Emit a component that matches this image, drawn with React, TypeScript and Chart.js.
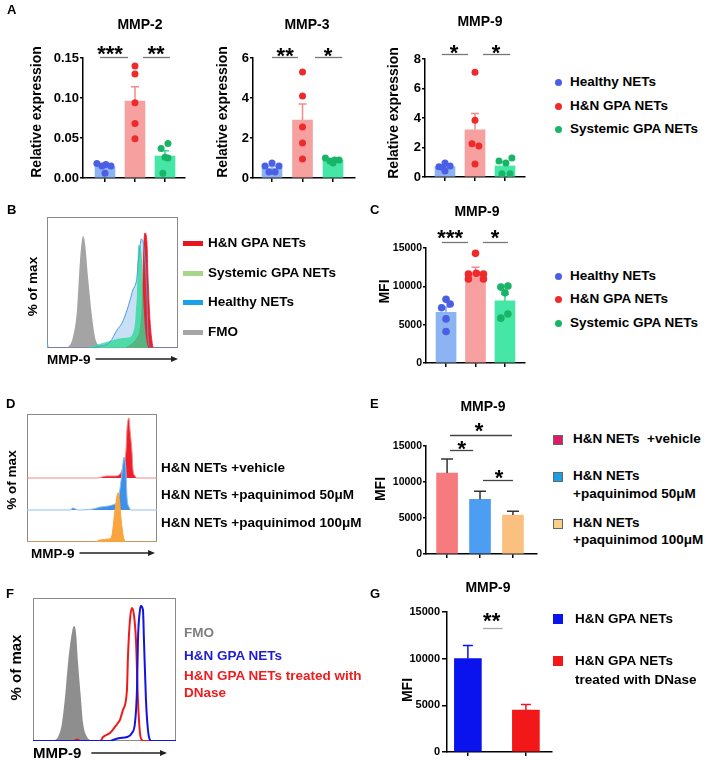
import React, { useEffect, useRef } from 'react';
import { Chart, registerables } from 'chart.js';

Chart.register(...registerables);

const FONT = "'Liberation Sans', Arial, Helvetica, sans-serif";

// ---------------- Panel A : relative expression ----------------
const groupsA = ['Healthy NETs', 'H&N GPA NETs', 'Systemic GPA NETs'];

const mmp2Mean = [0.014, 0.096, 0.0275];
const mmp2Sem = [0.0022, 0.018, 0.0065];
const mmp2Healthy = [0.018, 0.015, 0.017, 0.015, 0.006];
const mmp2HN = [0.14, 0.13, 0.094, 0.068, 0.049];
const mmp2Systemic = [0.043, 0.037, 0.025, 0.026, 0.006];
const mmp2Ticks = [0, 0.05, 0.1, 0.15];
const mmp2TickLabels = ['0.00', '0.05', '0.10', '0.15'];

const mmp3Mean = [0.5, 2.9, 0.88];
const mmp3Sem = [0.1, 0.8, 0.07];
const mmp3Healthy = [0.6, 0.75, 0.6, 0.3, 0.3];
const mmp3HN = [5.3, 4.1, 2.55, 1.75, 0.95];
const mmp3Systemic = [1.0, 0.85, 0.9, 0.9, 0.75];
const mmp3Ticks = [0, 2, 4, 6];
const mmp3TickLabels = ['0', '2', '4', '6'];

const mmp9Mean = [0.7, 3.2, 0.75];
const mmp9Sem = [0.12, 1.1, 0.28];
const mmp9Healthy = [0.7, 0.95, 0.75, 0.65, 0.4];
const mmp9HN = [7.1, 3.85, 2.25, 2.1, 0.88];
const mmp9Systemic = [1.08, 0.95, 1.28, 0.22, 0.22];
const mmp9Ticks = [0, 2, 4, 6, 8];
const mmp9TickLabels = ['0', '2', '4', '6', '8'];

// ---------------- Panel C : MFI ----------------
const mfiMean = [6600, 11850, 8100];
const mfiSem = [700, 650, 900];
const mfiHealthy = [8300, 7200, 7700, 5750, 4100];
const mfiHN = [14300, 11600, 11700, 11600, 10950, 10950];
const mfiSystemic = [9900, 10050, 9150, 6400, 5850];
const mfiTicks = [0, 5000, 10000, 15000];
const mfiTickLabels = ['0', '5000', '10000', '15000'];

// ---------------- Panel E : paquinimod ----------------
const legendE = [['H&N NETs  +vehicle'], ['H&N NETs', '+paquinimod 50\u03bcM'], ['H&N NETs', '+paquinimod 100\u03bcM']];
const labelsD = ['H&N NETs +vehicle', 'H&N NETs +paquinimod 50\u03bcM', 'H&N NETs +paquinimod 100\u03bcM'];
const paqMean = [11250, 7600, 5400];
const paqSem = [1950, 1100, 550];

// ---------------- Panel G : DNase ----------------
const legendG = [['H&N GPA NETs'], ['H&N GPA NETs', 'treated with DNase']];
const dnaseMean = [10000, 4500];
const dnaseSem = [1400, 600];

// ---------------- Histograms [channel 0-100, % of max] ----------------
const legendB = ['H&N GPA NETs', 'Systemic GPA NETs', 'Healthy NETs', 'FMO'];
const histB_FMO = [[0, 0], [13, 0], [16, 0.8], [19.8, 8.4], [22.9, 29], [25.2, 67.2], [26.7, 82.4], [27.5, 85.5], [29, 80.2], [31.3, 54.2], [34.4, 23.7], [36.6, 8.4], [38.9, 2.3], [42, 0], [100, 0]];
const histB_Healthy = [[0, 7], [1, 0], [36, 0], [38.2, 0.8], [48.1, 4.6], [53.4, 13.7], [57.3, 19.1], [61.1, 29], [63.4, 36.6], [65.6, 44.3], [67.9, 49.6], [68.7, 54.2], [69.5, 64.9], [71, 77.1], [71.8, 83.2], [73.3, 80.9], [74.8, 67.2], [76.3, 38.9], [77.1, 8.4], [78.6, 0.8], [80, 0], [100, 0]];
const histB_Systemic = [[0, 0], [31, 0], [32.8, 0.8], [42.7, 3.8], [50.4, 6.1], [58, 7.6], [63.4, 8.4], [65.6, 11.5], [67.2, 19.1], [67.9, 29], [68.7, 42], [69.1, 59.5], [69.5, 77.1], [70.2, 78.6], [72.5, 67.2], [73.3, 42], [74.8, 16], [76.3, 3.8], [77.1, 0.8], [78, 0], [100, 0]];
const histB_HN = [[0, 0], [60, 0], [61.1, 0.8], [65.6, 3.8], [68.7, 7.6], [71, 13.7], [72.5, 29], [73.3, 54.2], [74, 80.2], [74.8, 87.8], [76.3, 80.2], [77.1, 54.2], [78.6, 21.4], [80.2, 4.6], [80.9, 0.8], [82, 0], [100, 0]];

const histD_vehicle = [[0, 0], [53.8, 0], [61.5, 1.6], [67.7, 1.6], [71.5, 3.1], [73.8, 8.6], [76.2, 22.7], [76.9, 38.3], [78.5, 46.9], [79.2, 38.3], [80.8, 20.3], [81.5, 7], [83.1, 1.6], [84.6, 0], [100, 0]];
const histD_paq50 = [[0, 0], [33.1, 0], [35.4, 1.6], [39.2, 0], [50.8, 0.8], [56.2, 2.3], [62.3, 3.1], [67.7, 4.7], [70, 7], [71.5, 16.4], [73.1, 29.7], [74.6, 41.4], [76.2, 29.7], [76.9, 10.9], [78.5, 2.3], [80.8, 0], [100, 0]];
const histD_paq100 = [[0, 0], [52, 0], [56.2, 1.6], [63, 2.4], [65, 3.9], [67.7, 25], [69.2, 36], [70.2, 38.5], [71, 34], [72, 22], [73.5, 8], [74.8, 1.5], [76.2, 0], [100, 0]];

const legendF = ['FMO', 'H&N GPA NETs', 'H&N GPA NETs treated with', 'DNase'];
const histF_FMO = [[0, 0], [14, 0], [15.4, 0.7], [17.5, 2.8], [20.3, 12.6], [22.4, 30.8], [24.5, 54.5], [27.3, 76.2], [28.7, 80.4], [30.1, 75.5], [31.5, 54.5], [33.6, 28.7], [35, 12.6], [37.8, 2.8], [39.9, 0.7], [41, 0], [100, 0]];
const histF_DNase = [[0, 0], [28, 0], [30.8, 1], [33.6, 0], [47, 0], [49, 2.8], [53.8, 5.6], [57.3, 9.8], [59.4, 12.6], [60.8, 14.7], [62.9, 21.7], [65.7, 35.7], [66.4, 58.7], [67.8, 84.6], [69.2, 93], [70.6, 88.1], [72, 70.6], [73.4, 28.7], [74.8, 5.6], [76.2, 0.7], [77.5, 0], [100, 0]];
const histF_HN = [[0, 0], [54, 0], [55.9, 0.7], [60.8, 2.1], [65.7, 2.8], [69.2, 5.6], [71.3, 12.6], [72.7, 35.7], [73.4, 70.6], [74.8, 91.6], [75.5, 94.4], [76.9, 91.6], [77.6, 70.6], [79, 28.7], [80.4, 7.7], [81.8, 0.7], [83, 0], [100, 0]];

// ---------------- styles ----------------
const BAR_A = ['#8db4f2', '#f6a0a0', '#46e6a6'];
const ERR_A = ['#7aa6ee', '#f08c8c', '#36d696'];
const DOT_A = ['#4a5ee6', '#ee2b2b', '#18b566'];
const BAR_E = ['#f77b7e', '#4d9ef3', '#fbbf80'];
const BAR_G = ['#0a12ee', '#f2181a'];

type Dots = { values: number[]; jitter: number[]; color: string; group: number };
type Bracket = { x1: number; x2: number; y: number; lx: number; label: string; gap: number };

function barDecor(s: any) {
  return {
    id: 'barDecor',
    afterDatasetDraw(chart: any, args: any) {
      if (args.meta.type !== 'bar') return;
      const ctx = chart.ctx;
      const ys = chart.scales.y;
      ctx.save();
      ctx.lineWidth = 1.5;
      args.meta.data.forEach((el: any, i: number) => {
        const top = ys.getPixelForValue(s.means[i] + s.sems[i]);
        ctx.strokeStyle = s.errColors[i];
        ctx.beginPath();
        ctx.moveTo(el.x, el.y);
        ctx.lineTo(el.x, top);
        ctx.moveTo(el.x - s.cap / 2, top);
        ctx.lineTo(el.x + s.cap / 2, top);
        ctx.stroke();
      });
      ctx.restore();
    },
    afterDraw(chart: any) {
      const { ctx, chartArea: ca, scales } = chart;
      ctx.save();
      ctx.fillStyle = '#000';
      ctx.textAlign = 'center';
      ctx.textBaseline = 'middle';
      ctx.font = `bold 14px ${FONT}`;
      ctx.fillText(s.title, (ca.left + ca.right) / 2 + s.titleDx, ca.top + s.titleDy);
      ctx.save();
      ctx.translate(ca.left + s.ytDx, (ca.top + ca.bottom) / 2 + s.ytDy);
      ctx.rotate(-Math.PI / 2);
      ctx.fillText(s.ytitle, 0, 0);
      ctx.restore();
      ctx.strokeStyle = s.brColor;
      ctx.lineWidth = 1.3;
      ctx.font = `bold ${s.starSize}px ${FONT}`;
      ctx.textBaseline = 'alphabetic';
      s.brackets.forEach((b: Bracket) => {
        const y = Math.round(scales.y.getPixelForValue(b.y)) + 0.5;
        ctx.beginPath();
        ctx.moveTo(scales.x.getPixelForValue(b.x1), y);
        ctx.lineTo(scales.x.getPixelForValue(b.x2), y);
        ctx.stroke();
        ctx.fillText(b.label, scales.x.getPixelForValue(b.lx), y - b.gap + 0.57 * s.starSize);
      });
      ctx.restore();
    },
  };
}

function barConfig(s: any) {
  const padding = { left: s.L - s.cx - s.yw, top: s.T - s.cy, right: s.cx + s.cw - s.R, bottom: s.cy + s.ch - s.B - s.xh };
  const xTicks = s.means.map((_: number, i: number) => i);
  const datasets: any[] = (s.dots as Dots[]).map((d) => ({
    type: 'scatter',
    order: 0,
    data: d.values.map((v, k) => ({ x: d.group + d.jitter[k], y: v })),
    backgroundColor: d.color,
    borderColor: d.color,
    borderWidth: 0,
    pointRadius: s.dotR,
  }));
  datasets.push({
    type: 'bar',
    order: 1,
    data: s.means.map((m: number, i: number) => ({ x: i, y: m })),
    backgroundColor: s.barColors,
    barThickness: s.barW,
    borderWidth: 0,
  });
  const grid = (len: number) => ({ display: true, drawOnChartArea: false, drawTicks: true, tickLength: len, color: '#000', lineWidth: 1.5, offset: false });
  return {
    type: 'bar',
    data: { datasets },
    options: {
      responsive: false,
      animation: false,
      devicePixelRatio: 1,
      layout: { padding },
      plugins: { legend: { display: false }, tooltip: { enabled: false } },
      scales: {
        x: {
          type: 'linear', min: s.xMin, max: s.xMax, offset: false,
          afterBuildTicks: (sc: any) => { sc.ticks = xTicks.map((v: number) => ({ value: v })); },
          afterFit: (sc: any) => { sc.height = s.xh; },
          grid: grid(4),
          border: { display: true, color: '#000', width: 1.5 },
          ticks: { display: false },
        },
        y: {
          type: 'linear', min: 0, max: s.yTicks[s.yTicks.length - 1],
          afterBuildTicks: (sc: any) => { sc.ticks = s.yTicks.map((v: number) => ({ value: v })); },
          afterFit: (sc: any) => { sc.width = s.yw; },
          grid: grid(s.tickLen),
          border: { display: true, color: '#000', width: 1.5 },
          ticks: { color: '#000', padding: s.tickPad, font: { family: FONT, size: s.tickFont, weight: 'bold' }, callback: (_v: any, i: number) => s.yLabels[i] },
        },
      },
    },
    plugins: [barDecor(s)],
  };
}

function histDecor(f: any) {
  return {
    id: 'histDecor',
    beforeDatasetsDraw(chart: any) {
      const { ctx, chartArea: ca } = chart;
      ctx.save();
      ctx.strokeStyle = '#8a8a8a';
      ctx.lineWidth = 1;
      ctx.strokeRect(ca.left + 0.5, ca.top + 0.5, ca.right - ca.left - 1, ca.bottom - ca.top - 1);
      ctx.restore();
    },
    afterDraw(chart: any) {
      const { ctx, chartArea: ca } = chart;
      ctx.save();
      ctx.fillStyle = '#000';
      ctx.font = `bold ${f.labelSize}px ${FONT}`;
      ctx.textBaseline = 'middle';
      ctx.textAlign = 'left';
      const lx = ca.left + f.xlDx;
      const ly = ca.bottom + f.xlDy;
      ctx.fillText(f.xlabel, lx, ly);
      const w = ctx.measureText(f.xlabel).width;
      const ax0 = lx + w + f.arrowGap;
      const ax1 = ca.right + f.arrowEndDx;
      const ay = ca.bottom + f.arrowDy;
      ctx.strokeStyle = '#222';
      ctx.lineWidth = 1.3;
      ctx.beginPath();
      ctx.moveTo(ax0, ay);
      ctx.lineTo(ax1 - 5, ay);
      ctx.stroke();
      ctx.beginPath();
      ctx.moveTo(ax1, ay);
      ctx.lineTo(ax1 - 7, ay - 3);
      ctx.lineTo(ax1 - 7, ay + 3);
      ctx.closePath();
      ctx.fillStyle = '#222';
      ctx.fill();
      ctx.fillStyle = '#000';
      ctx.save();
      ctx.translate(ca.left + f.ylDx, (ca.top + ca.bottom) / 2 + f.ylDy);
      ctx.rotate(-Math.PI / 2);
      ctx.textAlign = 'center';
      ctx.fillText(f.ylabel, 0, 0);
      ctx.restore();
      ctx.restore();
    },
  };
}

function histConfig(f: any) {
  const padding = { left: f.L - f.cx, top: f.T - f.cy, right: f.cx + f.cw - f.R, bottom: f.cy + f.ch - f.B };
  return {
    type: 'line',
    data: {
      datasets: f.series.map((s: any) => ({
        data: s.pts.map((p: number[]) => ({ x: p[0], y: p[1] + s.offset })),
        borderColor: s.line || 'rgba(0,0,0,0)',
        borderWidth: s.lw,
        backgroundColor: s.fill || 'rgba(0,0,0,0)',
        fill: s.fill ? { value: s.offset } : false,
        pointRadius: 0,
        cubicInterpolationMode: 'monotone',
      })),
    },
    options: {
      responsive: false,
      animation: false,
      devicePixelRatio: 1,
      layout: { padding },
      plugins: { legend: { display: false }, tooltip: { enabled: false } },
      scales: {
        x: { type: 'linear', min: 0, max: 100, display: false },
        y: { type: 'linear', min: 0, max: f.yMax, display: false },
      },
    },
    plugins: [histDecor(f)],
  };
}

function ChartBox({ x, y, w, h, make }: { x: number; y: number; w: number; h: number; make: () => any }) {
  const ref = useRef<HTMLCanvasElement>(null);
  useEffect(() => {
    const c = new Chart(ref.current as HTMLCanvasElement, make());
    return () => c.destroy();
  }, []);
  return <canvas ref={ref} width={w} height={h} style={{ position: 'absolute', left: x, top: y, width: w, height: h }} />;
}

function Txt({ x, y, text, size = 13.5, color = '#000' }: { x: number; y: number; text: string; size?: number; color?: string }) {
  return (
    <div style={{ position: 'absolute', left: x, top: y, transform: 'translateY(-50%)', fontFamily: FONT, fontWeight: 'bold', fontSize: size, lineHeight: 1, color, whiteSpace: 'pre' }}>{text}</div>
  );
}

const dotsOf = (vals: number[][], jit: number[][], colors: string[]): Dots[] =>
  vals.map((v, i) => ({ values: v, jitter: jit[i], color: colors[i], group: i }));

const specA1 = {
  cx: 0, cy: 0, cw: 200, ch: 195, L: 83, T: 58, R: 185, B: 178, yw: 50, xh: 8,
  xMin: -0.733, xMax: 2.667, yTicks: mmp2Ticks, yLabels: mmp2TickLabels, tickFont: 13, tickLen: 3, tickPad: 1,
  means: mmp2Mean, sems: mmp2Sem, barColors: BAR_A, errColors: ERR_A, barW: 20, cap: 8, dotR: 3.5,
  dots: dotsOf([mmp2Healthy, mmp2HN, mmp2Systemic], [[-0.27, -0.1, 0.03, 0.2, 0], [0, 0, 0, 0, 0], [0.1, -0.13, 0.1, 0, -0.07]], DOT_A),
  title: 'MMP-2', titleDx: 6, titleDy: -33, ytitle: 'Relative expression', ytDx: -46, ytDy: -6,
  brColor: '#777', starSize: 22,
  brackets: [{ x1: -0.167, x2: 0.767, y: 0.15125, lx: 0.167, label: '***', gap: 9 }, { x1: 1.267, x2: 2.167, y: 0.15125, lx: 1.7, label: '**', gap: 9 }],
};
const specA2 = {
  cx: 200, cy: 0, cw: 170, ch: 195, L: 253, T: 58, R: 355, B: 178, yw: 25, xh: 8,
  xMin: -0.623, xMax: 2.72, yTicks: mmp3Ticks, yLabels: mmp3TickLabels, tickFont: 13, tickLen: 3, tickPad: 1,
  means: mmp3Mean, sems: mmp3Sem, barColors: BAR_A, errColors: ERR_A, barW: 20, cap: 8, dotR: 3.5,
  dots: dotsOf([mmp3Healthy, mmp3HN, mmp3Systemic], [[-0.23, 0, 0.23, -0.1, 0.1], [0, 0, 0, 0, 0], [-0.25, -0.1, 0.05, 0.2, 0]], DOT_A),
  title: 'MMP-3', titleDx: 3, titleDy: -33, ytitle: 'Relative expression', ytDx: -30, ytDy: -6,
  brColor: '#777', starSize: 22,
  brackets: [{ x1: 0, x2: 0.85, y: 6.05, lx: 0.43, label: '**', gap: 7 }, { x1: 1.41, x2: 2.3, y: 6.05, lx: 1.84, label: '*', gap: 7 }],
};
const specA3 = {
  cx: 370, cy: 0, cw: 170, ch: 195, L: 425, T: 59, R: 525, B: 177, yw: 25, xh: 8,
  xMin: -0.667, xMax: 2.667, yTicks: mmp9Ticks, yLabels: mmp9TickLabels, tickFont: 13, tickLen: 3, tickPad: 1,
  means: mmp9Mean, sems: mmp9Sem, barColors: BAR_A, errColors: ERR_A, barW: 20, cap: 8, dotR: 3.5,
  dots: dotsOf([mmp9Healthy, mmp9HN, mmp9Systemic], [[-0.2, 0, 0.17, -0.07, 0], [0, 0, -0.1, 0.13, 0], [-0.2, 0.03, 0.23, -0.1, 0.17]], DOT_A),
  title: 'MMP-9', titleDx: 5, titleDy: -37, ytitle: 'Relative expression', ytDx: -31, ytDy: -5,
  brColor: '#777', starSize: 22,
  brackets: [{ x1: -0.1, x2: 0.77, y: 8.34, lx: 0.3, label: '*', gap: 7 }, { x1: 1.27, x2: 2.17, y: 8.34, lx: 1.7, label: '*', gap: 7 }],
};
const specC = {
  cx: 360, cy: 195, cw: 180, ch: 185, L: 426, T: 248, R: 525, B: 363, yw: 40, xh: 8,
  xMin: -0.68, xMax: 2.68, yTicks: mfiTicks, yLabels: mfiTickLabels, tickFont: 10.5, tickLen: 3, tickPad: 1,
  means: mfiMean, sems: mfiSem, barColors: BAR_A, errColors: ERR_A, barW: 20, cap: 8, dotR: 3.8,
  dots: dotsOf([mfiHealthy, mfiHN, mfiSystemic], [[0, -0.15, 0.14, 0, 0], [0, -0.24, 0.03, 0.27, -0.24, 0.27], [-0.14, 0.1, 0, 0.1, -0.14]], DOT_A),
  title: 'MMP-9', titleDx: 1.5, titleDy: -36, ytitle: 'MFI', ytDx: -41, ytDy: -14,
  brColor: '#777', starSize: 22,
  brackets: [{ x1: -0.14, x2: 0.75, y: 15780, lx: 0.14, label: '***', gap: 10 }, { x1: 1.25, x2: 2.1, y: 15780, lx: 1.66, label: '*', gap: 10 }],
};
const specE = {
  cx: 360, cy: 390, cw: 190, ch: 180, L: 426, T: 446, R: 537, B: 554, yw: 40, xh: 8,
  xMin: -0.64, xMax: 2.73, yTicks: mfiTicks, yLabels: mfiTickLabels, tickFont: 10.5, tickLen: 3, tickPad: 1,
  means: paqMean, sems: paqSem, barColors: BAR_E, errColors: ['#333', '#333', '#333'], barW: 21, cap: 12, dotR: 0,
  dots: [],
  title: 'MMP-9', titleDx: 1.5, titleDy: -39, ytitle: 'MFI', ytDx: -45, ytDy: -11,
  brColor: '#444', starSize: 22,
  brackets: [
    { x1: 0.09, x2: 1.97, y: 16530, lx: 0.97, label: '*', gap: 10 },
    { x1: 0.09, x2: 0.79, y: 14440, lx: 0.45, label: '*', gap: 7 },
    { x1: 1.09, x2: 2.0, y: 10280, lx: 1.58, label: '*', gap: 8 },
  ],
};
const specG = {
  cx: 360, cy: 575, cw: 200, ch: 187, L: 447, T: 612, R: 552, B: 752, yw: 40, xh: 8,
  xMin: -0.36, xMax: 1.45, yTicks: mfiTicks, yLabels: mfiTickLabels, tickFont: 11, tickLen: 5, tickPad: 2,
  means: dnaseMean, sems: dnaseSem, barColors: BAR_G, errColors: BAR_G, barW: 27, cap: 10, dotR: 0,
  dots: [],
  title: 'MMP-9', titleDx: -11.5, titleDy: -24, ytitle: 'MFI', ytDx: -39, ytDy: 8,
  brColor: '#aaa', starSize: 22,
  brackets: [{ x1: 0.26, x2: 0.6, y: 13290, lx: 0.41, label: '**', gap: 13 }],
};

const specB = {
  cx: 0, cy: 200, cw: 200, ch: 175, L: 47, T: 217, R: 178, B: 348, yMax: 100,
  xlabel: 'MMP-9', labelSize: 13.5, xlDx: 0, xlDy: 12, arrowGap: 5, arrowEndDx: 0, arrowDy: 11,
  ylabel: '% of max', ylDx: -14, ylDy: 4,
  series: [
    { pts: histB_Healthy, offset: 0, fill: null, line: '#4b9be8', lw: 1 },
    { pts: histB_Systemic, offset: 0, fill: 'rgba(50,218,150,0.8)', line: null, lw: 0 },
    { pts: histB_HN, offset: 0, fill: '#ee2028', line: '#e8141e', lw: 0.8 },
    { pts: histB_Healthy, offset: 0, fill: 'rgba(196,222,246,0.95)', line: null, lw: 0 },
    { pts: histB_FMO, offset: 0, fill: '#a4a4a4', line: null, lw: 0 },
  ],
};
const specD = {
  cx: 0, cy: 400, cw: 170, ch: 165, L: 27, T: 414, R: 157, B: 542, yMax: 100,
  xlabel: 'MMP-9', labelSize: 13.5, xlDx: 4, xlDy: 12.5, arrowGap: 5, arrowEndDx: -2, arrowDy: 11,
  ylabel: '% of max', ylDx: -15, ylDy: 2,
  series: [
    { pts: histD_paq100, offset: 0, fill: '#f9a43e', line: '#f9a43e', lw: 1 },
    { pts: histD_paq50, offset: 25, fill: '#3d8fe8', line: '#8cc0f0', lw: 1 },
    { pts: histD_vehicle, offset: 50, fill: '#f01e28', line: '#f08a8a', lw: 1 },
  ],
};
const specF = {
  cx: 0, cy: 585, cw: 185, ch: 177, L: 33, T: 598, R: 176, B: 741, yMax: 100,
  xlabel: 'MMP-9', labelSize: 15, xlDx: 0, xlDy: 12.5, arrowGap: 10, arrowEndDx: -9, arrowDy: 12,
  ylabel: '% of max', ylDx: -16, ylDy: -2,
  series: [
    { pts: histF_HN, offset: 0, fill: null, line: '#1414e0', lw: 2 },
    { pts: histF_DNase, offset: 0, fill: null, line: '#ee1a1a', lw: 2 },
    { pts: histF_FMO, offset: 0, fill: '#8e8e8e', line: null, lw: 0 },
  ],
};

export default function App() {
  const rowsA = [82, 106, 129];
  const rowsC = [276, 299, 323];
  const rowsB = [243, 273, 302, 332];
  const colorsB = ['#e8141e', '#a6d68c', '#1aa0e8', '#a6a6a6'];
  const rowsD = [468, 495, 523];
  const rowsE = [[439], [476, 494], [523, 540]];
  const squaresE = ['#e0186a', '#1aa0e6', '#f8d088'];
  const rowsF = [633, 656, 676, 693];
  const colorsF = ['#7f7f7f', '#1c1cd0', '#ee1c1c', '#ee1c1c'];
  const rowsG = [[619], [661, 680]];
  return (
    <div style={{ position: 'absolute', left: 0, top: 0, width: 708, height: 762, background: '#fff', overflow: 'hidden' }}>
      <ChartBox x={specA1.cx} y={specA1.cy} w={specA1.cw} h={specA1.ch} make={() => barConfig(specA1)} />
      <ChartBox x={specA2.cx} y={specA2.cy} w={specA2.cw} h={specA2.ch} make={() => barConfig(specA2)} />
      <ChartBox x={specA3.cx} y={specA3.cy} w={specA3.cw} h={specA3.ch} make={() => barConfig(specA3)} />
      <ChartBox x={specC.cx} y={specC.cy} w={specC.cw} h={specC.ch} make={() => barConfig(specC)} />
      <ChartBox x={specE.cx} y={specE.cy} w={specE.cw} h={specE.ch} make={() => barConfig(specE)} />
      <ChartBox x={specG.cx} y={specG.cy} w={specG.cw} h={specG.ch} make={() => barConfig(specG)} />
      <ChartBox x={specB.cx} y={specB.cy} w={specB.cw} h={specB.ch} make={() => histConfig(specB)} />
      <ChartBox x={specD.cx} y={specD.cy} w={specD.cw} h={specD.ch} make={() => histConfig(specD)} />
      <ChartBox x={specF.cx} y={specF.cy} w={specF.cw} h={specF.ch} make={() => histConfig(specF)} />

      <Txt x={7} y={8.5} text="A" size={13} />
      <Txt x={7} y={209} text="B" size={13} />
      <Txt x={370} y={209} text="C" size={13} />
      <Txt x={6} y={402.5} text="D" size={13} />
      <Txt x={370} y={402.5} text="E" size={13} />
      <Txt x={6} y={592.5} text="F" size={13} />
      <Txt x={370} y={592.5} text="G" size={13} />

      {groupsA.map((g, i) => (
        <React.Fragment key={'a' + i}>
          <div style={{ position: 'absolute', left: 554.5, top: rowsA[i] - 3.5, width: 7, height: 7, borderRadius: '50%', background: DOT_A[i] }} />
          <Txt x={570} y={rowsA[i]} text={g} />
        </React.Fragment>
      ))}
      {groupsA.map((g, i) => (
        <React.Fragment key={'c' + i}>
          <div style={{ position: 'absolute', left: 554.5, top: rowsC[i] - 3.5, width: 7, height: 7, borderRadius: '50%', background: DOT_A[i] }} />
          <Txt x={570} y={rowsC[i]} text={g} />
        </React.Fragment>
      ))}
      {legendB.map((g, i) => (
        <React.Fragment key={'b' + i}>
          <div style={{ position: 'absolute', left: 183, top: rowsB[i] - 2.5, width: 20, height: 5, background: colorsB[i] }} />
          <Txt x={208} y={rowsB[i]} text={g} />
        </React.Fragment>
      ))}
      {labelsD.map((g, i) => (
        <Txt key={'d' + i} x={161} y={rowsD[i]} text={g} />
      ))}
      {legendE.map((lines, i) => (
        <React.Fragment key={'e' + i}>
          <div style={{ position: 'absolute', left: 553, top: rowsE[i][0] - 4.5, width: 8, height: 8, background: squaresE[i], border: '1px solid #666' }} />
          {lines.map((t, k) => (
            <Txt key={k} x={573} y={rowsE[i][k]} text={t} />
          ))}
        </React.Fragment>
      ))}
      {legendF.map((g, i) => (
        <Txt key={'f' + i} x={184} y={rowsF[i]} text={g} color={colorsF[i]} />
      ))}
      {legendG.map((lines, i) => (
        <React.Fragment key={'g' + i}>
          <div style={{ position: 'absolute', left: 553, top: rowsG[i][0] - 5, width: 10, height: 10, background: BAR_G[i] }} />
          {lines.map((t, k) => (
            <Txt key={k} x={575} y={rowsG[i][k]} text={t} />
          ))}
        </React.Fragment>
      ))}
    </div>
  );
}
